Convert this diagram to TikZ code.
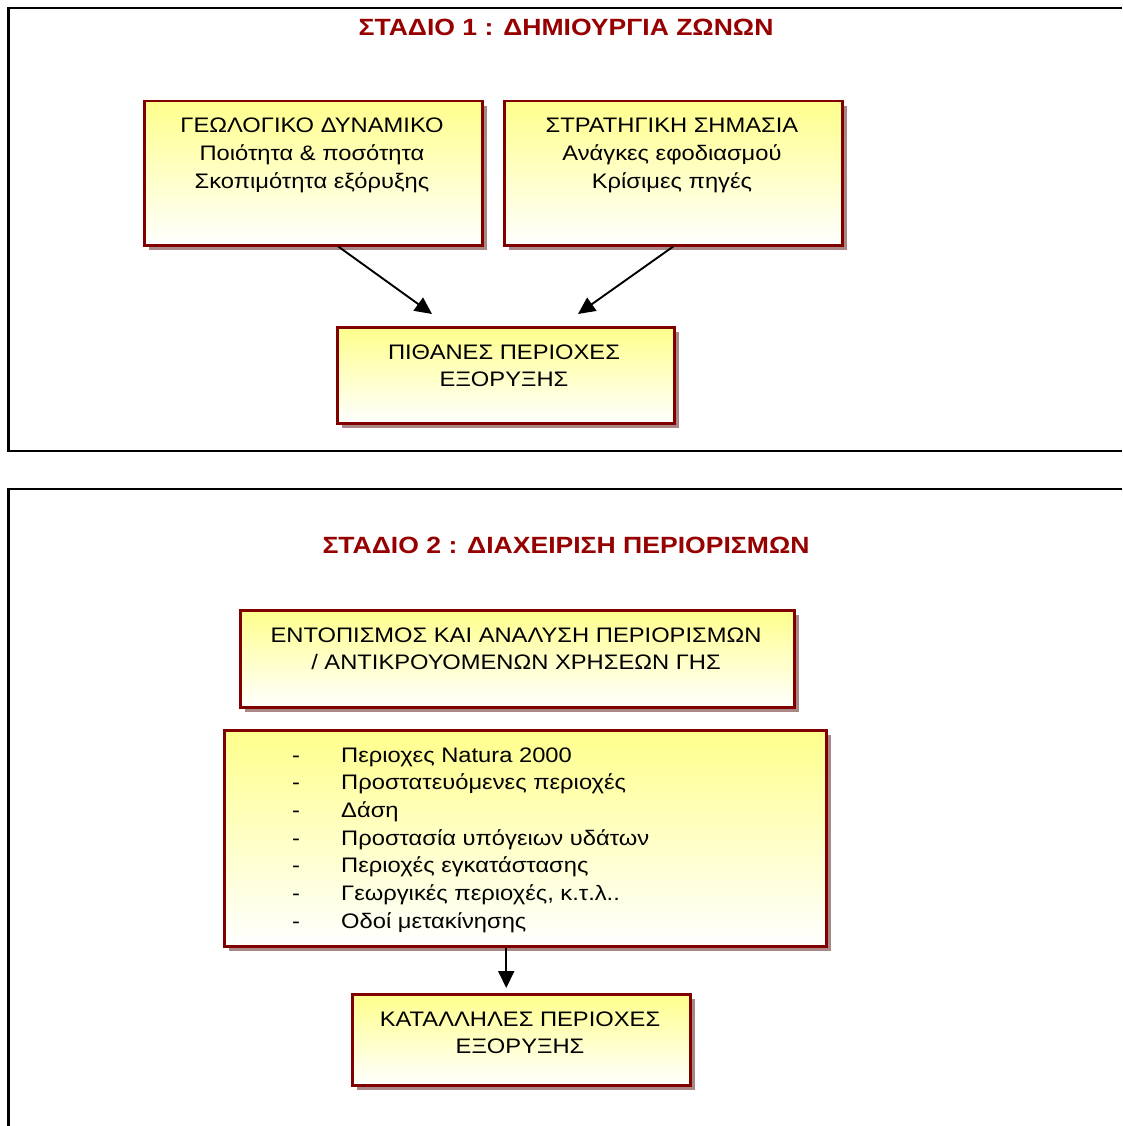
\documentclass[tikz,border=0pt]{standalone}
\usepackage{fontspec}
\setmainfont{Liberation Sans}[FakeStretch=1.13]
\usetikzlibrary{arrows.meta,shadows,calc}
\definecolor{titlered}{RGB}{150,0,0}
\definecolor{boxred}{RGB}{128,0,0}
\definecolor{boxyellow}{RGB}{255,255,140}
\definecolor{shadowc}{RGB}{170,135,135}
\tikzset{
  frameline/.style={line width=2.5pt,black},
  stagebox/.style={draw=boxred,line width=2.5pt,shading=axis,top color=boxyellow,bottom color=white,
    inner sep=0pt,anchor=north west,
    general shadow={fill=shadowc,shadow xshift=4.5pt,shadow yshift=-4.5pt}},
  boxtext/.style={inner sep=0pt,anchor=base,font=\fontsize{21}{28}\selectfont},
  titletext/.style={inner sep=0pt,anchor=base,text=titlered,font=\fontsize{23.5}{28}\selectfont\bfseries},
  flowarrow/.style={line width=1.9pt,-{Triangle[width=16pt,length=17pt]}}
}
\begin{document}
\begin{tikzpicture}[x=1pt,y=-1pt]
\useasboundingbox (0,0) rectangle (1122,1126);
% frames
\draw[frameline] (1122,8) -- (8.5,8) -- (8.5,451) -- (1122,451);
\draw[frameline] (1122,489) -- (8.5,489) -- (8.5,1126);
% titles
\node[titletext] (t1) at (566,35.5) {ΣΤΑΔΙΟ 1 : ΔΗΜΙΟΥΡΓΙΑ ΖΩΝΩΝ};
\node[titletext] (t2) at (566,553.5) {ΣΤΑΔΙΟ 2 : ΔΙΑΧΕΙΡΙΣΗ ΠΕΡΙΟΡΙΣΜΩΝ};
% boxes
\node[stagebox,minimum width=338pt,minimum height=144pt] (a) at (143,100) {};
\node[stagebox,minimum width=338pt,minimum height=144pt] (b) at (503,100) {};
\node[stagebox,minimum width=337pt,minimum height=96pt] (c) at (336,326) {};
\node[stagebox,minimum width=554pt,minimum height=97pt] (d) at (239,609) {};
\node[stagebox,minimum width=602pt,minimum height=216pt] (e) at (223,729) {};
\node[stagebox,minimum width=338pt,minimum height=91pt] (f) at (351,993) {};
% texts
\node[boxtext] (ta) at (312,132.5) {\begin{tabular}[t]{@{}c@{}}ΓΕΩΛΟΓΙΚΟ ΔΥΝΑΜΙΚΟ\\Ποιότητα \& ποσότητα\\Σκοπιμότητα εξόρυξης\end{tabular}};
\node[boxtext] (tb) at (672,132.5) {\begin{tabular}[t]{@{}c@{}}ΣΤΡΑΤΗΓΙΚΗ ΣΗΜΑΣΙΑ\\Ανάγκες εφοδιασμού\\Κρίσιμες πηγές\end{tabular}};
\node[boxtext,font=\fontsize{21}{27}\selectfont] (tc) at (504,359.5) {\begin{tabular}[t]{@{}c@{}}ΠΙΘΑΝΕΣ ΠΕΡΙΟΧΕΣ\\ΕΞΟΡΥΞΗΣ\end{tabular}};
\node[boxtext,font=\fontsize{21}{27}\selectfont] (td) at (516,642) {\begin{tabular}[t]{@{}c@{}}ΕΝΤΟΠΙΣΜΟΣ ΚΑΙ ΑΝΑΛΥΣΗ ΠΕΡΙΟΡΙΣΜΩΝ\\/ ΑΝΤΙΚΡΟΥΟΜΕΝΩΝ ΧΡΗΣΕΩΝ ΓΗΣ\end{tabular}};
\node[boxtext,anchor=base west,font=\fontsize{21}{27.67}\selectfont] (te) at (292,762) {\begin{tabular}[t]{@{}p{49pt}@{}l@{}}
-&Περιοχες Natura 2000\\
-&Προστατευόμενες περιοχές\\
-&Δάση\\
-&Προστασία υπόγειων υδάτων\\
-&Περιοχές εγκατάστασης\\
-&Γεωργικές περιοχές, κ.τ.λ..\\
-&Οδοί μετακίνησης
\end{tabular}};
\node[boxtext,font=\fontsize{21}{27}\selectfont] (tf) at (520,1026.5) {\begin{tabular}[t]{@{}c@{}}ΚΑΤΑΛΛΗΛΕΣ ΠΕΡΙΟΧΕΣ\\ΕΞΟΡΥΞΗΣ\end{tabular}};
% arrows
\draw[flowarrow] ($(a.south)+(25,0)$) -- ($(c.north west)+(96,-12)$);
\draw[flowarrow] (b.south) -- ($(c.north west)+(242,-12)$);
\draw[flowarrow] ($(e.south)+(-19,0)$) -- ($(f.north)+(-15,-5)$);
\end{tikzpicture}
\end{document}
